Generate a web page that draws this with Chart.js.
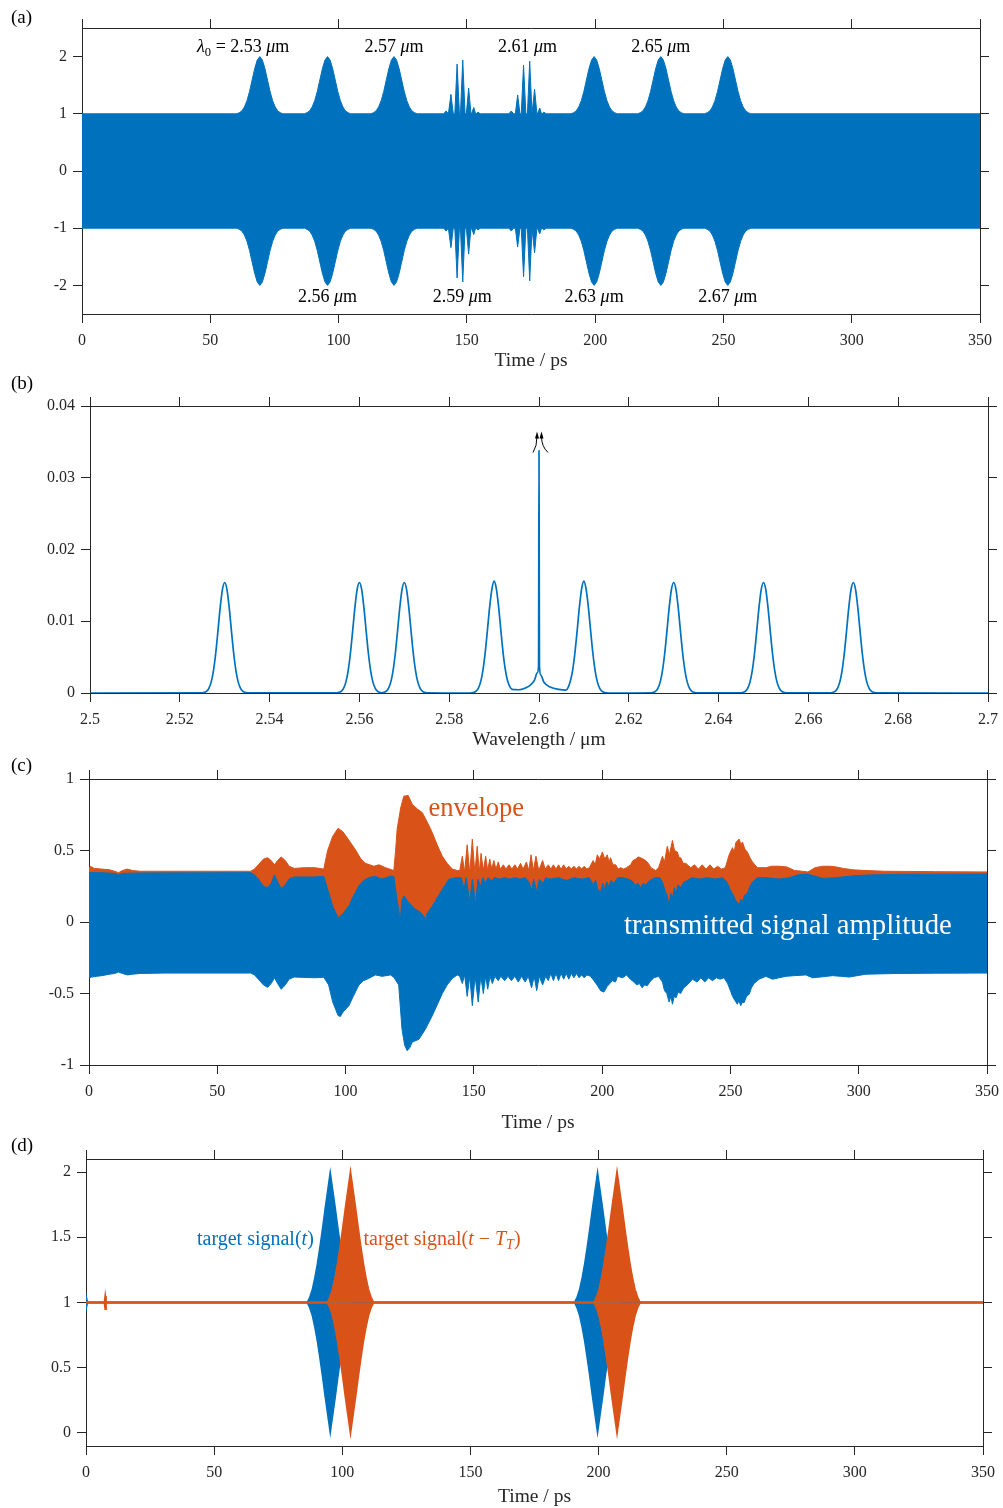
<!DOCTYPE html>
<html lang="en">
<head>
<meta charset="UTF-8">
<title>Pulse train, spectrum and transmitted signal</title>
<script src="https://cdn.jsdelivr.net/npm/chart.js"></script>
<style>
  body { margin: 0; background: #fff; }
  #page { position: relative; width: 1003px; height: 1508px; font-family: 'Liberation Serif', 'Times New Roman', serif; }
  canvas { position: absolute; left: 0; }
  .tag { position: absolute; left: 11px; font-size: 19px; line-height: 1; color: #000; }
</style>
</head>
<body>
<div id="page">
  <canvas id="chartA" width="1003" height="378" style="top:0px"></canvas>
  <canvas id="chartB" width="1003" height="377" style="top:378px"></canvas>
  <canvas id="chartC" width="1003" height="385" style="top:755px"></canvas>
  <canvas id="chartD" width="1003" height="368" style="top:1140px"></canvas>
  <div class="tag" style="top:7px">(a)</div>
  <div class="tag" style="top:373px">(b)</div>
  <div class="tag" style="top:755px">(c)</div>
  <div class="tag" style="top:1135px">(d)</div>
</div>

<script>
    const BLUE = '#0072BD';
    const ORANGE = '#D95319';
    const AXIS = '#262626';
    const SERIF = "'Liberation Serif', 'Times New Roman', serif";
    const PAGE_W = 1003;

    // ---- (a) pulse train in time ----
    const ticksTimeA = [0, 50, 100, 150, 200, 250, 300, 350];
    const ticksAmpA = [-2, -1, 0, 1, 2];
    const pulseCentersA = [69.3, 95.7, 121.6, 148.2, 173.6, 199.6, 225.6, 251.7];
    const pulseLabelsA = ['2.53', '2.56', '2.57', '2.59', '2.61', '2.63', '2.65', '2.67'];
    const smoothCentersA = [69.3, 95.7, 121.6, 199.6, 225.6, 251.7];
    const pulseOffsetA = [0, 1, 2, 3, 4, 5, 6, 7, 8, 9];
    const pulseEnvA = [2.0, 1.94, 1.79, 1.59, 1.39, 1.23, 1.12, 1.05, 1.02, 1.0];
    const chirpTimesA = [141.9, 143.8, 146.2, 148.4, 150.7, 152.7, 154.3,
                         167.3, 169.8, 172.1, 174.5, 176.4, 178.4, 180.0];
    const chirpPeaksA = [1.05, 1.34, 1.87, 1.94, 1.45, 1.11, 1.03,
                         1.05, 1.33, 1.85, 1.92, 1.43, 1.10, 1.03];

    // ---- (b) spectrum ----
    const ticksWaveB = [2.5, 2.52, 2.54, 2.56, 2.58, 2.6, 2.62, 2.64, 2.66, 2.68, 2.7];
    const ticksPowerB = [0, 0.01, 0.02, 0.03, 0.04];
    const peakCentersB = [2.53, 2.56, 2.57, 2.63, 2.65, 2.67];
    const peakOffsetB = [0, 0.0005, 0.001, 0.0015, 0.002, 0.0025, 0.003, 0.0035, 0.004, 0.0045, 0.005];
    const peakShapeB = [0.0154, 0.01445, 0.01193, 0.00867, 0.00554, 0.00313, 0.00155, 0.00068, 0.00026, 0.00009, 0.00003];
    const centreWaveB = [2.584, 2.585, 2.5855, 2.586, 2.5865, 2.587, 2.5875, 2.588, 2.5885, 2.589, 2.5895, 2.59,
                         2.5905, 2.591, 2.5915, 2.592, 2.5925, 2.593, 2.5935, 2.594, 2.5955, 2.597, 2.598, 2.599,
                         2.5996, 2.5999, 2.6, 2.6001, 2.6004, 2.6011, 2.6026, 2.6044, 2.606, 2.6065, 2.607, 2.6075,
                         2.608, 2.6085, 2.609, 2.6095, 2.61, 2.6105, 2.611, 2.6115, 2.612, 2.6125, 2.613, 2.6135,
                         2.614, 2.6145, 2.615, 2.616];
    const centrePowerB = [0, 0.00003, 0.00009, 0.00026, 0.00068, 0.00155, 0.00313, 0.00554, 0.00867, 0.01193, 0.01445, 0.0156,
                          0.01455, 0.01203, 0.00877, 0.00564, 0.00325, 0.0017, 0.0009, 0.0005, 0.00045, 0.0007, 0.00105, 0.0018,
                          0.0028, 0.0038, 0.0338, 0.0038, 0.0025, 0.0015, 0.0008, 0.0005, 0.0004, 0.0008, 0.0017, 0.0032,
                          0.0056, 0.0087, 0.012, 0.01455, 0.0156, 0.01445, 0.01193, 0.00867, 0.00554, 0.00313, 0.00155, 0.00068,
                          0.00026, 0.00009, 0.00003, 0];

    // ---- (c) transmitted signal: [time, value] ----
    const envTopC = [[0,0.38],[0.5,0.39],[2,0.375],[5,0.37],[8,0.365],[10,0.355],[11.5,0.345],[13,0.36],[15,0.37],[17,0.36],
        [20,0.355],[40,0.355],[63,0.355],[64.5,0.37],[66,0.40],[68,0.44],[69.6,0.45],[71,0.43],[72.3,0.40],[73.5,0.43],
        [74.9,0.455],[76.5,0.43],[78,0.39],[80,0.375],[84,0.38],[88,0.38],[91.5,0.37],[93,0.5],[95,0.6],[97.1,0.656],
        [99,0.63],[101,0.58],[103.9,0.504],[106,0.44],[107.8,0.41],[111,0.39],[113,0.40],[115.6,0.38],[118.8,0.36],
        [119.5,0.5],[120.1,0.65],[121.5,0.8],[122.7,0.88],[124.4,0.885],[126,0.823],[128,0.79],[129.9,0.765],[131.8,0.7],
        [133.8,0.625],[135.7,0.54],[137.7,0.46],[139.6,0.41],[141.6,0.37],[143.5,0.36],[144.5,0.36],[145.5,0.46],
        [146.4,0.35],[147.4,0.54],[148.4,0.34],[149.4,0.58],[150.4,0.34],[151.3,0.53],[152.1,0.35],[152.8,0.48],
        [153.7,0.36],[154.6,0.46],[155.4,0.36],[156.2,0.44],[157,0.37],[157.8,0.43],[158.6,0.37],[159.5,0.42],
        [160.3,0.37],[161.5,0.40],[162.5,0.37],[163.7,0.40],[164.8,0.37],[166,0.40],[167,0.37],[168.2,0.41],[169.2,0.37],
        [170.5,0.42],[171.4,0.36],[172.3,0.47],[173.2,0.36],[174.2,0.46],[175.3,0.36],[176.8,0.43],[177.8,0.37],
        [179,0.40],[180,0.37],[181,0.40],[182,0.37],[183,0.40],[184,0.37],[185,0.40],[186,0.37],[187,0.39],[188,0.37],
        [189,0.39],[190,0.37],[191,0.39],[192,0.37],[193,0.39],[194,0.37],[195,0.38],[196.5,0.43],[197.3,0.40],
        [198.1,0.47],[199,0.44],[200.1,0.49],[201,0.44],[202,0.47],[202.7,0.42],[203.3,0.45],[204.2,0.40],[205.3,0.40],
        [206.2,0.37],[207.2,0.38],[208.3,0.37],[209.5,0.38],[211.1,0.40],[212,0.43],[213.1,0.44],[214,0.455],[215,0.45],
        [216,0.44],[217,0.43],[218,0.41],[219,0.38],[220.9,0.36],[222,0.38],[223.5,0.46],[224.3,0.42],[225.4,0.53],
        [226.2,0.47],[227.4,0.57],[228.2,0.50],[229.3,0.49],[230,0.45],[230.6,0.45],[231.6,0.41],[232.6,0.41],[234.5,0.38],
        [236,0.40],[237.5,0.37],[239,0.40],[240.5,0.37],[242,0.40],[243.5,0.37],[245,0.39],[246.5,0.37],[248,0.38],
        [249.5,0.47],[250.8,0.52],[251.5,0.49],[252.1,0.555],[253.4,0.58],[254.1,0.54],[254.7,0.56],[255.6,0.51],
        [256.6,0.49],[257.6,0.45],[258.6,0.42],[260.5,0.38],[263.8,0.38],[266,0.39],[269,0.39],[272,0.385],[275,0.36],
        [278,0.355],[280.2,0.35],[283,0.38],[286,0.39],[289,0.39],[291.2,0.385],[294,0.375],[297.7,0.365],[302.9,0.36],
        [310,0.355],[330,0.352],[350,0.35]];
    const envBotC = [[0,0.345],[5,0.345],[10,0.34],[11.5,0.33],[13,0.34],[20,0.343],[63,0.345],[64.5,0.33],[66,0.30],
        [68,0.25],[69.6,0.24],[71,0.27],[72.3,0.33],[73.5,0.28],[74.9,0.235],[76.5,0.26],[78,0.30],[80,0.315],[88,0.315],
        [91.5,0.32],[93.4,0.206],[95,0.11],[97.1,0.03],[99,0.06],[101.3,0.113],[103,0.18],[105.2,0.253],[107,0.29],
        [109,0.31],[111.6,0.32],[114.2,0.30],[117.5,0.32],[118.8,0.32],[120.1,0.15],[120.7,0.09],[121.3,0.0],[121.9,0.15],
        [122.7,0.183],[124.6,0.137],[127.2,0.09],[129,0.07],[130.5,0.04],[131.1,0.01],[131.7,0.06],[133.8,0.11],
        [135.7,0.17],[137.7,0.227],[140.3,0.30],[142.9,0.31],[145,0.31],[146.2,0.23],[147,0.31],[148.4,0.14],[149.4,0.30],
        [150.7,0.125],[151.6,0.30],[152.6,0.25],[153.5,0.31],[154.5,0.27],[155.5,0.31],[157,0.29],[158,0.31],[160,0.30],
        [162,0.31],[164,0.30],[166,0.31],[168,0.30],[170,0.31],[171.5,0.28],[172.5,0.22],[173.3,0.30],[174.5,0.21],
        [175.5,0.30],[177,0.27],[178,0.31],[180,0.30],[183,0.31],[186,0.29],[189,0.31],[192,0.30],[195,0.31],[196.5,0.26],
        [197.5,0.29],[198.2,0.23],[199.4,0.21],[200.2,0.27],[200.8,0.23],[201.8,0.28],[202.6,0.25],[203.5,0.29],
        [204.5,0.27],[206,0.31],[208,0.31],[210,0.30],[211.5,0.29],[213,0.26],[214,0.27],[215,0.24],[216,0.27],[217,0.26],
        [218.5,0.29],[220.5,0.31],[222.5,0.31],[223.5,0.28],[224.5,0.22],[225.4,0.18],[226.1,0.11],[226.7,0.20],
        [227.4,0.17],[228.2,0.24],[228.8,0.20],[229.6,0.26],[230.6,0.24],[231.8,0.28],[233.2,0.29],[235,0.31],[238,0.30],
        [241,0.31],[244,0.30],[247,0.31],[248.6,0.28],[250.1,0.22],[251,0.19],[252.1,0.15],[253.4,0.12],[254.1,0.16],
        [254.7,0.14],[255.6,0.19],[256.6,0.20],[257.6,0.25],[258.6,0.28],[260.5,0.31],[263.8,0.31],[269,0.30],[273,0.31],
        [276.3,0.33],[280.2,0.335],[283,0.32],[286,0.305],[291.2,0.31],[297.7,0.323],[302.9,0.328],[316,0.334],[350,0.335]];
    const signalBotC = [[0,-0.36],[0.3,-0.39],[1,-0.385],[3,-0.38],[5,-0.375],[8,-0.365],[10,-0.36],[11.5,-0.35],
        [13,-0.36],[15,-0.37],[17,-0.365],[20,-0.36],[30,-0.357],[63,-0.357],[64.5,-0.37],[66,-0.40],[68,-0.44],
        [69.6,-0.457],[71,-0.43],[72.3,-0.39],[73.5,-0.43],[74.9,-0.47],[76.5,-0.44],[78,-0.40],[80,-0.385],[88,-0.39],
        [91.5,-0.387],[93.4,-0.44],[95,-0.56],[97.1,-0.655],[98,-0.66],[99,-0.63],[101.3,-0.585],[103,-0.52],
        [105.2,-0.44],[107,-0.41],[109,-0.395],[111.6,-0.37],[114.2,-0.38],[117.5,-0.37],[118.8,-0.387],[120.7,-0.44],
        [122,-0.75],[123,-0.86],[124,-0.9],[125,-0.88],[126,-0.84],[128.6,-0.82],[131.1,-0.75],[133.8,-0.655],
        [135.7,-0.58],[137.7,-0.5],[139.6,-0.44],[141.6,-0.395],[143.5,-0.37],[144.5,-0.38],[145.5,-0.43],[146.4,-0.37],
        [147.4,-0.52],[148.4,-0.38],[149.4,-0.585],[150.5,-0.38],[151.7,-0.56],[152.7,-0.38],[153.7,-0.5],[154.6,-0.38],
        [155.4,-0.47],[156.3,-0.38],[157.2,-0.43],[158.2,-0.38],[159.5,-0.41],[160.5,-0.38],[162,-0.41],[163.3,-0.38],
        [164.6,-0.41],[166,-0.38],[167.3,-0.42],[168.6,-0.38],[170,-0.42],[171.2,-0.38],[172.5,-0.46],[173.5,-0.38],
        [174.5,-0.48],[175.5,-0.38],[176.8,-0.44],[178,-0.38],[179,-0.41],[180,-0.36],[181,-0.41],[182,-0.36],[183,-0.41],
        [184,-0.36],[185,-0.40],[186,-0.36],[187,-0.40],[188,-0.36],[189,-0.39],[190,-0.36],[191,-0.39],[192,-0.37],
        [193,-0.39],[194,-0.37],[195.5,-0.38],[196.8,-0.41],[198,-0.44],[199.4,-0.48],[200.7,-0.49],[202,-0.45],
        [203,-0.43],[204,-0.41],[205.2,-0.42],[206,-0.38],[208,-0.39],[209.5,-0.37],[211,-0.40],[212.4,-0.42],
        [213.5,-0.44],[214.5,-0.43],[215.6,-0.46],[216.5,-0.44],[217.6,-0.445],[219,-0.41],[220.2,-0.39],[222,-0.38],
        [223.5,-0.42],[224.3,-0.48],[225.2,-0.50],[226.1,-0.56],[226.8,-0.52],[227.4,-0.575],[228.1,-0.52],[228.8,-0.53],
        [229.6,-0.49],[230.6,-0.5],[231.8,-0.46],[233.2,-0.44],[235.2,-0.40],[237,-0.42],[238.5,-0.39],[240,-0.42],
        [241.5,-0.39],[243,-0.41],[244.5,-0.39],[246,-0.40],[247.5,-0.39],[248.9,-0.43],[250,-0.48],[250.8,-0.52],
        [251.8,-0.55],[252.7,-0.575],[253.3,-0.55],[254,-0.585],[254.7,-0.56],[255.3,-0.565],[256.3,-0.52],
        [257.3,-0.505],[258.2,-0.46],[259.2,-0.43],[261.2,-0.40],[263.8,-0.38],[266.4,-0.40],[269,-0.39],[271.6,-0.38],
        [275,-0.375],[279.4,-0.37],[282,-0.39],[285,-0.385],[289.8,-0.375],[293,-0.38],[296.3,-0.385],[302.8,-0.365],
        [315,-0.36],[330,-0.358],[350,-0.357]];
    const ticksAmpC = [-1, -0.5, 0, 0.5, 1];

    // ---- (d) target signal and delayed copy ----
    const ticksAmpD = [0, 0.5, 1, 1.5, 2];
    const targetCentersD = [95.3, 199.6];
    const delayedCentersD = [103.2, 207.2];
    const burstOffsetD = [0, 1, 2, 3, 4, 5, 6, 7, 8, 9];
    const burstAmpD = [1.0, 0.86, 0.72, 0.57, 0.43, 0.30, 0.19, 0.10, 0.04, 0];
    const targetBlipD = [0.3, 0.04];
    const delayedBlipD = [7.5, 0.05];

    // half profile -> points on both sides of each centre
    function pulsePoints(centres, offsets, values, base, range) {
        const pts = [{x: range[0], y: base}, {x: range[1], y: base}];
        centres.forEach(c => offsets.forEach((o, i) => {
            pts.push({x: c - o, y: values[i]});
            if (o !== 0) pts.push({x: c + o, y: values[i]});
        }));
        return pts;
    }
    const byX = (a, b) => a.x - b.x;
    const fromPairs = list => list.map(p => ({x: p[0], y: p[1]})).sort(byX);
    // drop points sharing an x (keeps the larger value), the spline needs distinct x
    const distinctX = pts => pts.filter((p, i) => {
        const next = pts[i + 1];
        if (next && Math.abs(next.x - p.x) < 1e-9) { next.y = Math.max(next.y, p.y); return false; }
        return true;
    });

    // (a) upper envelope, mirrored for the lower side
    const upperA = pulsePoints(smoothCentersA, pulseOffsetA, pulseEnvA, 1, [0, 350]);
    chirpTimesA.forEach((t, i) => {
        upperA.push({x: t - 0.9, y: 1}, {x: t, y: chirpPeaksA[i]}, {x: t + 0.9, y: 1});
    });
    upperA.sort(byX);
    const lowerA = upperA.map(p => ({x: p.x, y: -p.y}));

    // (b) spectrum line
    const spectrumB = pulsePoints(peakCentersB, peakOffsetB, peakShapeB, 0, [2.5, 2.7]);
    centreWaveB.forEach((w, i) => spectrumB.push({x: w, y: centrePowerB[i]}));
    spectrumB.sort(byX);
    const spectrumLineB = distinctX(spectrumB);

    // (d) bursts around the level 1
    function burst(centres, blip) {
        const amp = pulsePoints(centres, burstOffsetD, burstAmpD, 0, [0, 350]);
        amp.push({x: blip[0] - 0.3, y: 0}, {x: blip[0], y: blip[1]}, {x: blip[0] + 0.3, y: 0});
        amp.sort(byX);
        return [amp.map(p => ({x: p.x, y: 1 + p.y})), amp.map(p => ({x: p.x, y: 1 - p.y}))];
    }
    const [targetUpD, targetLowD] = burst(targetCentersD, targetBlipD);
    const [delayUpD, delayLowD] = burst(delayedCentersD, delayedBlipD);

    // text with italic / subscript pieces
    function drawRich(ctx, parts, x, y, size, color, align) {
        const fontOf = p => (p.i ? 'italic ' : '') + (p.sub ? size * 0.7 : size) + 'px ' + SERIF;
        let total = 0;
        parts.forEach(p => { ctx.font = fontOf(p); total += ctx.measureText(p.t).width; });
        let cx = align === 'center' ? x - total / 2 : (align === 'right' ? x - total : x);
        ctx.save();
        ctx.fillStyle = color;
        ctx.textAlign = 'left';
        ctx.textBaseline = 'alphabetic';
        parts.forEach(p => {
            ctx.font = fontOf(p);
            ctx.fillText(p.t, cx, y + (p.sub ? size * 0.22 : 0));
            cx += ctx.measureText(p.t).width;
        });
        ctx.restore();
        return total;
    }

    // boxed axes with outward ticks on all four sides
    function axisScales(p) {
        const grid = {drawOnChartArea: false, drawTicks: true, tickLength: 9, color: AXIS, lineWidth: 1};
        const border = {display: true, color: AXIS, width: 1};
        const labels = {font: {family: SERIF, size: 16}, color: AXIS, padding: 8, autoSkip: false,
                        maxRotation: 0, minRotation: 0, callback: v => String(v)};
        const yLabels = {...labels, padding: 6};
        const fixed = list => s => { s.ticks = list.map(v => ({value: v})); };
        // fixed sizes so every plot box lands where the figure has it
        const size = (key, value) => s => {
            s[key] = value;
            s.paddingLeft = s.paddingRight = s.paddingTop = s.paddingBottom = 0;
        };
        const base = (range, list) => ({type: 'linear', bounds: 'data', min: range[0], max: range[1],
                                        grid, border, afterBuildTicks: fixed(list)});
        return {
            x: {...base(p.xRange, p.xTicks), position: 'bottom', ticks: labels,
                title: {display: true, text: p.xTitle, color: AXIS,
                        font: {family: SERIF, size: 19.5, lineHeight: 1}, padding: {top: 0, bottom: p.titlePad}},
                afterFit: size('height', p.frame[1] - p.box.b)},
            xTop: {...base(p.xRange, p.xTicks), position: 'top', ticks: {display: false},
                   afterFit: size('height', p.box.t - p.frame[0])},
            y: {...base(p.yRange, p.yTicks), position: 'left', ticks: yLabels,
                afterFit: size('width', p.box.l)},
            yRight: {...base(p.yRange, p.yTicks), position: 'right', ticks: {display: false},
                     afterFit: size('width', PAGE_W - p.box.r)}
        };
    }

    function plot(id, p, datasets, notes) {
        new Chart(document.getElementById(id), {
            type: 'line',
            data: {datasets},
            options: {
                responsive: false,
                animation: false,
                events: [],
                layout: {padding: 0, autoPadding: false},
                elements: {point: {radius: 0}, line: {tension: 0}},
                plugins: {legend: {display: false}, tooltip: {enabled: false}},
                scales: axisScales(p)
            },
            plugins: notes ? [{id: id + 'Notes', afterDatasetsDraw: notes}] : []
        });
    }

    const band = (data, color, fill, order, width) => ({
        data, fill, order, borderColor: color, backgroundColor: color, borderWidth: width || 1
    });

    // (a)
    plot('chartA', {frame: [0, 378], box: {l: 82, t: 28, r: 980, b: 314},
                    xRange: [0, 350], yRange: [-2.5, 2.5], xTicks: ticksTimeA, yTicks: ticksAmpA,
                    xTitle: 'Time / ps', titlePad: 7},
        [band(upperA, BLUE, 'origin', 1), band(lowerA, BLUE, 'origin', 1)],
        chart => {
            const {ctx, scales: {x, y}} = chart;
            pulseCentersA.forEach((c, i) => {
                const px = x.getPixelForValue(c);
                const py = y.getPixelForValue(i % 2 === 0 ? 2.08 : -2.285);
                const w = drawRich(ctx, [{t: pulseLabelsA[i] + ' '}, {t: 'μ', i: true}, {t: 'm'}], px, py, 18, '#000', 'center');
                if (i === 0) {
                    drawRich(ctx, [{t: 'λ', i: true}, {t: '0', sub: true}, {t: ' = '}], px - w / 2, py, 18, '#000', 'right');
                }
            });
        });

    // (b)
    plot('chartB', {frame: [378, 755], box: {l: 90, t: 406, r: 988, b: 693},
                    xRange: [2.5, 2.7], yRange: [0, 0.04], xTicks: ticksWaveB, yTicks: ticksPowerB,
                    xTitle: 'Wavelength / μm', titlePad: 5},
        [{data: spectrumLineB, fill: false, borderColor: BLUE, borderWidth: 1.7,
          cubicInterpolationMode: 'monotone', borderJoinStyle: 'round'}],
        chart => {
            // off-scale marker above the narrow line at 2.6
            const {ctx, scales: {x, y}} = chart;
            const x0 = x.getPixelForValue(2.6);
            const yTop = y.getPixelForValue(Math.max(...centrePowerB));
            ctx.save();
            ctx.strokeStyle = '#000';
            ctx.fillStyle = '#000';
            ctx.lineWidth = 1;
            [[-2, -6], [2.5, 9]].forEach(([dx, foot]) => {
                ctx.beginPath();
                ctx.moveTo(x0 + dx, yTop - 14);
                ctx.quadraticCurveTo(x0 + dx, yTop - 4, x0 + foot, yTop + 2);
                ctx.stroke();
                ctx.beginPath();
                ctx.moveTo(x0 + dx, yTop - 19);
                ctx.lineTo(x0 + dx - 2, yTop - 12);
                ctx.lineTo(x0 + dx + 2, yTop - 12);
                ctx.closePath();
                ctx.fill();
            });
            ctx.restore();
        });

    // (c)
    plot('chartC', {frame: [755, 1140], box: {l: 89, t: 779, r: 987, b: 1065},
                    xRange: [0, 350], yRange: [-1, 1], xTicks: ticksTimeA, yTicks: ticksAmpC,
                    xTitle: 'Time / ps', titlePad: 7.5},
        [band(fromPairs(envTopC), ORANGE, 'origin', 2),
         band(fromPairs(envBotC), BLUE, 'origin', 1),
         band(fromPairs(signalBotC), BLUE, 'origin', 1)],
        chart => {
            const {ctx, scales: {x, y}} = chart;
            drawRich(ctx, [{t: 'envelope'}], x.getPixelForValue(132.3), y.getPixelForValue(0.742), 26.5, ORANGE, 'left');
            drawRich(ctx, [{t: 'transmitted signal amplitude'}], x.getPixelForValue(208.5), y.getPixelForValue(-0.085), 28.8, '#fff', 'left');
        });

    // (d)
    plot('chartD', {frame: [1140, 1508], box: {l: 86, t: 1159, r: 983, b: 1446},
                    xRange: [0, 350], yRange: [-0.1, 2.1], xTicks: ticksTimeA, yTicks: ticksAmpD,
                    xTitle: 'Time / ps', titlePad: 1},
        [band(targetUpD, BLUE, {value: 1}, 2, 1.5), band(targetLowD, BLUE, {value: 1}, 2, 1.5),
         band(delayUpD, ORANGE, {value: 1}, 1, 1.8), band(delayLowD, ORANGE, {value: 1}, 1, 1.8)],
        chart => {
            const {ctx, scales: {x, y}} = chart;
            const py = y.getPixelForValue(1.442);
            drawRich(ctx, [{t: 'target signal('}, {t: 't', i: true}, {t: ')'}], x.getPixelForValue(43.3), py, 20, BLUE, 'left');
            drawRich(ctx, [{t: 'target signal('}, {t: 't', i: true}, {t: ' − '}, {t: 'T', i: true},
                           {t: 'T', i: true, sub: true}, {t: ')'}], x.getPixelForValue(108.3), py, 20, ORANGE, 'left');
        });
</script>
</body>
</html>
